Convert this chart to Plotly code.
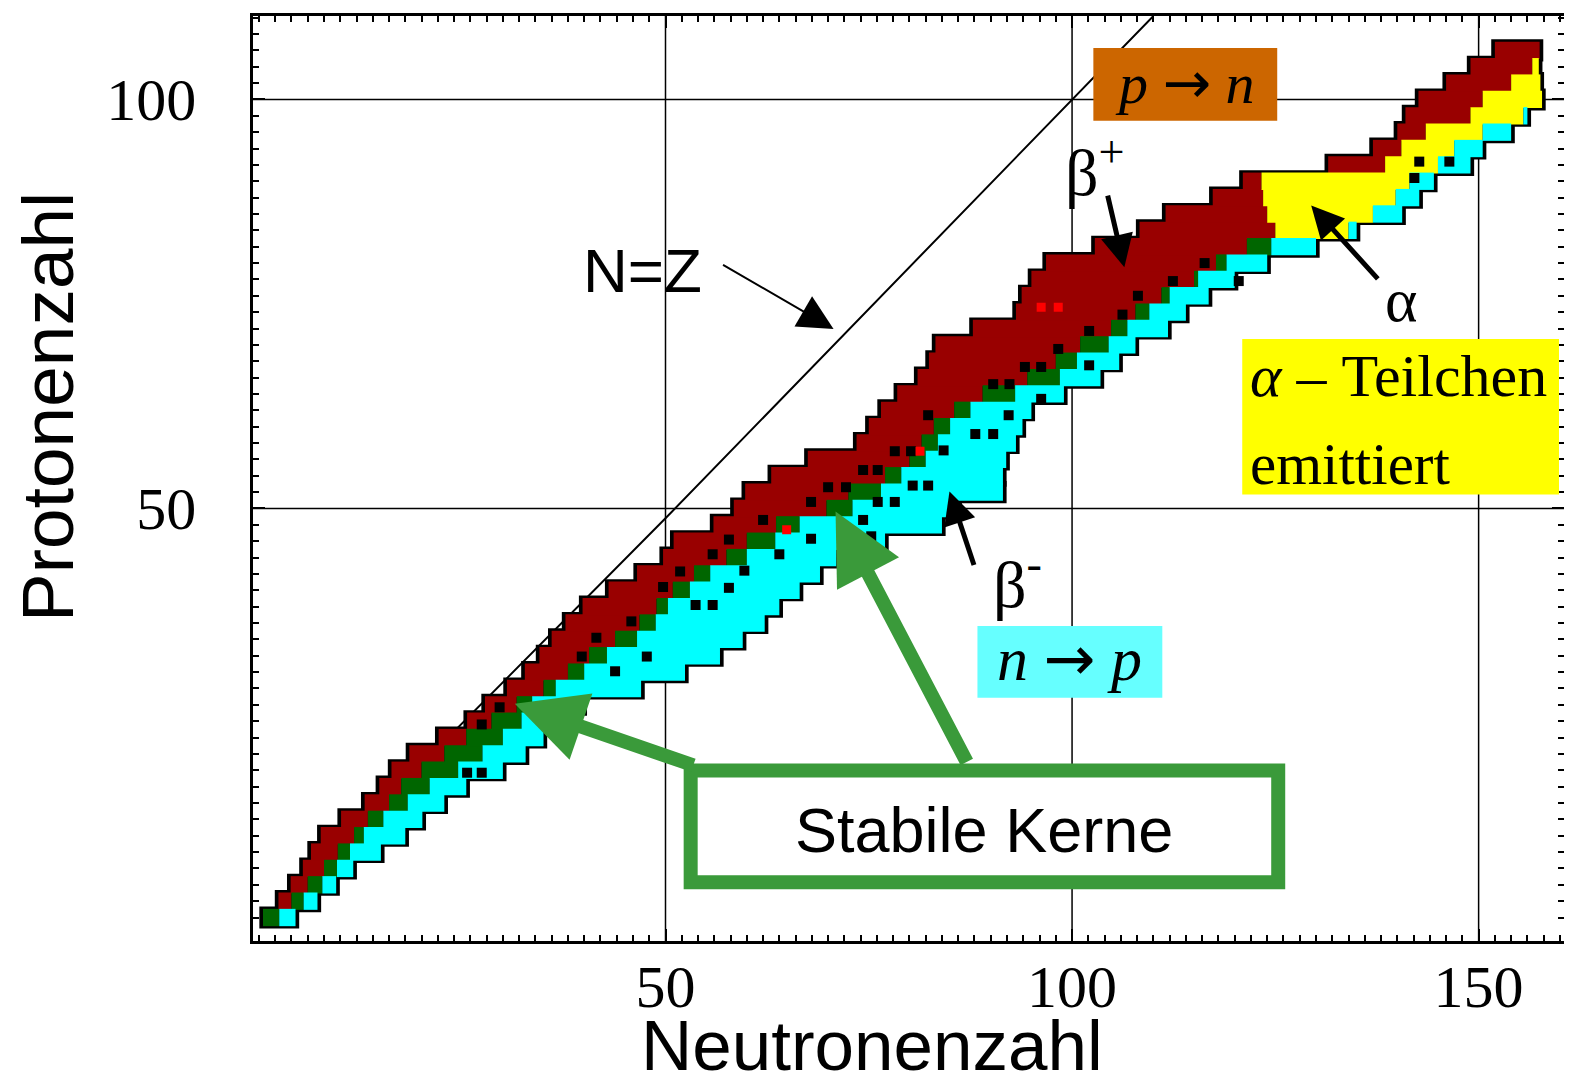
import plotly.graph_objects as go

# ---------------- data ----------------
# rows of the nuclide chart: proton number Z (each row spans Z-1 .. Z+1)
z_rows = list(range(0, 108, 2))
# boundaries in neutron number N per row:
# beta+ (dark red) [b0,b1], stable (green) [b1,b2], alpha (yellow) [b2,b3], beta- (cyan) [b3,b4]
b0 = [0.5, 2.4, 3.9, 5.4, 6.4, 7.6, 10.1, 13.0, 14.8, 16.3, 18.5, 22.1, 25.6, 27.8,
      30.5, 32.7, 34.5, 36.0, 37.7, 39.8, 43.0, 46.5, 49.7, 51.0, 55.9, 58.4, 59.8,
      63.0, 67.5, 73.5, 75.0, 76.5, 78.5, 81.0, 82.4, 83.2, 87.8, 93.1, 93.8, 95.0,
      96.8, 102.8, 108.3, 111.5, 117.3, 121.0, 131.5, 137.0, 140.0, 141.0, 142.6,
      146.0, 149.0, 152.0]
b1 = [0.5, 4.0, 6.0, 8.0, 9.7, 11.7, 13.4, 16.0, 17.5, 20.0, 22.8, 25.5, 28.6, 31.7,
      35.0, 38.0, 40.6, 43.8, 46.8, 48.9, 50.9, 53.5, 57.5, 60.0, 63.6, 69.8, 72.5,
      77.0, 80.0, 81.5, 83.0, 85.5, 89.0, 94.5, 98.0, 101.0, 104.8, 107.8, 111.0,
      115.0, 117.7, 121.5, 125.0, 124.0, 123.5, 123.3, 138.5, 140.5, 143.5, 149.0,
      150.5, 154.0, 156.6, 157.5]
b2 = [2.5, 5.5, 7.8, 9.6, 11.2, 12.9, 15.3, 18.3, 21.0, 24.5, 27.5, 30.0, 32.3, 33.6,
      36.5, 40.0, 42.8, 46.5, 48.8, 50.3, 53.0, 55.5, 60.0, 63.5, 66.5, 73.0, 76.5,
      79.0, 82.0, 83.5, 85.0, 87.5, 93.0, 98.5, 100.6, 104.5, 106.8, 109.5, 112.0,
      115.5, 119.0, 124.5, 125.0, 124.0, 123.5, 123.3, 138.5, 140.5, 143.5, 149.0,
      150.5, 154.0, 156.6, 157.5]
b3 = [2.5, 5.5, 7.8, 9.6, 11.2, 12.9, 15.3, 18.3, 21.0, 24.5, 27.5, 30.0, 32.3, 33.6,
      36.5, 40.0, 42.8, 46.5, 48.8, 50.3, 53.0, 55.5, 60.0, 63.5, 66.5, 73.0, 76.5,
      79.0, 82.0, 83.5, 85.0, 87.5, 93.0, 98.5, 100.6, 104.5, 106.8, 109.5, 112.0,
      115.5, 119.0, 124.5, 134.0, 137.0, 139.8, 141.5, 145.0, 147.0, 150.5, 155.5,
      157.8, 157.6, 157.4, 157.5]
b4 = [4.5, 7.2, 9.5, 11.6, 15.0, 18.0, 20.1, 22.8, 25.5, 30.0, 32.8, 35.0, 37.5, 39.9,
      47.0, 52.4, 56.7, 59.5, 62.2, 64.0, 66.5, 69.0, 71.0, 77.0, 84.0, 86.0, 91.5,
      91.5, 91.9, 93.1, 93.9, 95.0, 99.0, 103.5, 105.8, 107.8, 111.8, 114.0, 116.8,
      120.0, 124.0, 130.0, 135.0, 140.6, 142.7, 144.5, 149.0, 150.5, 154.0, 156.0,
      157.8, 157.6, 157.4, 157.5]

# long-lived / marked nuclides (black squares)
dot_n = [25.6, 27.4, 27.4, 29.6, 39.7, 43.8, 47.7, 41.5, 45.8, 53.7, 55.8, 49.7, 57.8,
         51.8, 59.7, 55.8, 64.0, 57.8, 67.9, 75.3, 62.0, 74.3, 67.9, 76.1, 78.2, 70.0,
         72.2, 80.4, 82.3, 74.3, 76.1, 78.2, 80.2, 84.2, 88.1, 90.3, 82.3, 92.2, 96.2,
         90.3, 92.3, 94.2, 96.2, 102.1, 98.3, 102.1, 106.2, 108.1, 112.4, 120.5, 116.3,
         142.1, 146.4, 142.7]
dot_z = [17.7, 17.7, 23.6, 25.7, 31.9, 30.1, 31.9, 34.2, 36.2, 38.2, 38.2, 40.4, 40.3,
         42.3, 42.4, 44.4, 44.4, 46.2, 46.3, 46.6, 48.6, 48.6, 50.8, 50.8, 50.8, 52.6,
         52.6, 52.8, 52.8, 54.7, 54.7, 57.0, 57.0, 57.1, 59.1, 59.1, 61.4, 61.4, 63.4,
         65.2, 65.2, 67.3, 67.3, 67.5, 69.5, 71.7, 73.7, 76.0, 77.8, 77.8, 80.0,
         90.4, 92.4, 92.4]
# bright red cells
red_n = [64.9, 81.3, 96.2, 98.3]
red_z = [47.4, 57.0, 74.6, 74.6]

# N = Z reference line as drawn in the picture
nz_n = [0.4, 50.0, 110.0]
nz_z = [-0.9, 48.8, 110.2]

x_tickvals = list(range(0, 161, 10))
x_ticktext = ["50" if v == 50 else "100" if v == 100 else "150" if v == 150 else "" for v in x_tickvals]
y_tickvals = list(range(0, 111, 10))
y_ticktext = ["50" if v == 50 else "100" if v == 100 else "" for v in y_tickvals]
x_grid = [50, 100, 150]
y_grid = [50, 100]

# ---------------- colours / styles ----------------
C_BPLUS = "#990000"
C_STABLE = "#006600"
C_ALPHA = "#ffff00"
C_BMINUS = "#00ffff"
ROW_H = 2.0

fig = go.Figure()


def seg(a, b):
    base, length = [], []
    for s, e in zip(a, b):
        if e - s > 0:
            base.append(s)
            length.append(e - s)
        else:
            base.append(None)
            length.append(None)
    return base, length


# black outline behind the band
ob = [s - 0.45 for s in b0]
ol = [max(e3, e4) - s + 0.9 for s, e3, e4 in zip(b0, b3, b4)]
fig.add_trace(go.Bar(y=z_rows, x=ol, base=ob, orientation="h", width=ROW_H + 0.7,
                     marker=dict(color="black", line=dict(width=0)), hoverinfo="skip"))

for a, b, col, name in [(b0, b1, C_BPLUS, "β+"), (b1, b2, C_STABLE, "stabil"),
                        (b2, b3, C_ALPHA, "α"), (b3, b4, C_BMINUS, "β-")]:
    base, length = seg(a, b)
    fig.add_trace(go.Bar(y=z_rows, x=length, base=base, orientation="h", width=ROW_H + 0.12,
                         name=name, marker=dict(color=col, line=dict(width=0))))

fig.add_trace(go.Scatter(x=dot_n, y=dot_z, mode="markers",
                         marker=dict(symbol="square", size=10, color="black"), name="dots"))
fig.add_trace(go.Scatter(x=red_n, y=red_z, mode="markers",
                         marker=dict(symbol="square", size=9, color="#ff0000"), name="red"))

# ---------------- layout ----------------
# the page body adds an 8 px margin, so the figure is drawn 8 px smaller and
# all window-pixel positions are shifted by that amount
OFF = 8
WIN_W, WIN_H = 1572, 1089
W, H = WIN_W - OFF, WIN_H - OFF
L, R, T, B = 253, 1565, 13, 941   # plot frame in window pixels


def px(x):
    return (x - L) / (R - L)


def py(y):
    return (B - y) / (B - T)


shapes = []
for g in x_grid:
    shapes.append(dict(type="line", xref="x", yref="paper", x0=g, x1=g, y0=0, y1=1,
                       line=dict(color="black", width=1.5), layer="below"))
for g in y_grid:
    shapes.append(dict(type="line", xref="paper", yref="y", x0=0, x1=1, y0=g, y1=g,
                       line=dict(color="black", width=1.5), layer="below"))

# N = Z line, lying underneath the chart band (data coordinates)
nz_path = "M " + " L ".join(f"{n},{z}" for n, z in zip(nz_n, nz_z))
shapes.append(dict(type="path", xref="x", yref="y", path=nz_path,
                   line=dict(color="black", width=2), layer="below"))


def box(x0, y0, x1, y1, fill, line=None, lw=0):
    return dict(type="rect", xref="paper", yref="paper", x0=px(x0), x1=px(x1),
                y0=py(y1), y1=py(y0), fillcolor=fill,
                line=dict(color=line or fill, width=lw), layer="above")


shapes.append(box(1094, 45, 1278, 118, "#cc6600"))
shapes.append(box(1243, 337, 1560, 493, "#ffff00"))
shapes.append(box(978, 625, 1163, 697, "#66ffff"))
shapes.append(box(691, 770, 1279, 882, "white", "#3a9a3a", 14))

SERIF = "Liberation Serif, Times New Roman, serif"
SANS = "Liberation Sans, Arial, sans-serif"
ARROW = '<span style="font-family:DejaVu Sans">→</span>'

ann = []


def text(t, x, y, size, family, xanchor="center", angle=0):
    ann.append(dict(text=t, x=px(x), y=py(y), xref="paper", yref="paper", showarrow=False,
                    xanchor=xanchor, yanchor="middle", textangle=angle,
                    font=dict(family=family, size=size, color="black")))


def arrow(tail, head, width, color="black", size=1.0):
    ann.append(dict(text="", x=px(head[0]), y=py(head[1]), xref="paper", yref="paper",
                    ax=tail[0] - head[0], ay=tail[1] - head[1], showarrow=True,
                    arrowhead=2, arrowsize=size, arrowwidth=width, arrowcolor=color))


# axis titles
text("Neutronenzahl", 872, 1046, 71, SANS)
text("Protonenzahl", 48, 405, 73, SANS, angle=-90)

text("N=Z", 643, 268, 62, SANS)
arrow((722, 262), (834, 327), 2, size=3.5)
text("<i>p</i> " + ARROW + " <i>n</i>", 1186, 80, 58, SERIF)
text("β<sup>+</sup>", 1096, 165, 66, SERIF)
arrow((1108, 192), (1125, 265), 5, size=1.3)
text("α", 1402, 298, 62, SERIF)
arrow((1380, 278), (1312, 203), 5, size=1.3)
text("<i>α</i> – Teilchen", 1249, 374, 60, SERIF, "left")
text("emittiert", 1249, 462, 59, SERIF, "left")
text("β<sup>-</sup>", 1018, 578, 66, SERIF)
arrow((975, 565), (950, 490), 5, size=1.3)
text("<i>n</i> " + ARROW + " <i>p</i>", 1070, 658, 62, SERIF)
text("Stabile Kerne", 985, 830, 63, SANS)
arrow((695, 765), (515, 703), 14, color="#3a9a3a", size=1.0)
arrow((968, 762), (836, 510), 14, color="#3a9a3a", size=1.0)

fig.update_layout(
    width=W, height=H,
    margin=dict(l=L - OFF, r=WIN_W - R, t=T - OFF, b=WIN_H - B),
    paper_bgcolor="white", plot_bgcolor="white",
    barmode="overlay", showlegend=False,
    shapes=shapes, annotations=ann,
)
fig.update_xaxes(
    range=[-0.73, 160.5], showgrid=False, zeroline=False,
    showline=True, linecolor="black", linewidth=2.5, mirror="ticks",
    ticks="inside", ticklen=12, tickwidth=2, tickcolor="black",
    tickmode="array", tickvals=x_tickvals, ticktext=x_ticktext,
    tickfont=dict(family=SERIF, size=60, color="black"), ticklabelstandoff=-9,
    minor=dict(tickmode="array", tickvals=list(range(0, 161, 2)), ticks="inside",
               ticklen=6, tickwidth=1.5, tickcolor="black"),
)
fig.update_yaxes(
    range=[-2.87, 110.2], showgrid=False, zeroline=False,
    showline=True, linecolor="black", linewidth=2.5, mirror="ticks",
    ticks="inside", ticklen=12, tickwidth=2, tickcolor="black",
    tickmode="array", tickvals=y_tickvals, ticktext=y_ticktext,
    tickfont=dict(family=SERIF, size=60, color="black"), ticklabelstandoff=42,
    minor=dict(tickmode="array", tickvals=list(range(0, 111, 2)), ticks="inside",
               ticklen=6, tickwidth=1.5, tickcolor="black"),
)

fig.write_html("out.html")
